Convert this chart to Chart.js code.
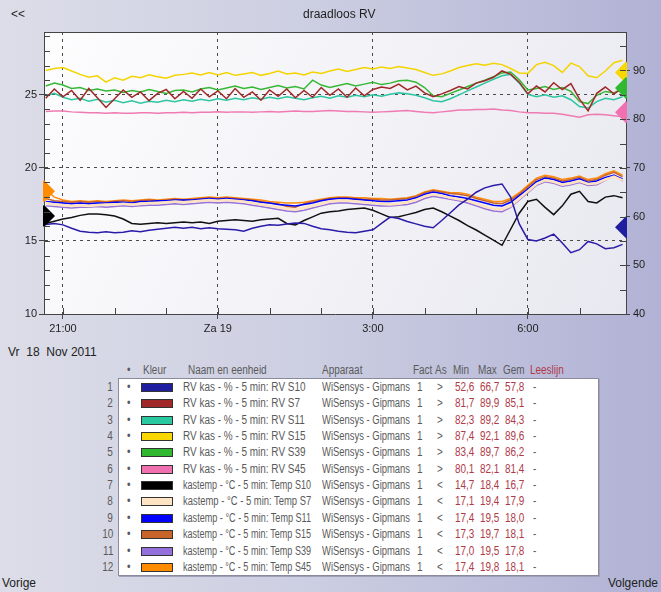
<!DOCTYPE html>
<html>
<head>
<meta charset="utf-8">
<script src="https://cdn.jsdelivr.net/npm/chart.js@4.4.0/dist/chart.umd.min.js"></script>
<style>
html, body { margin: 0; padding: 0; }
body {
    width: 661px; height: 592px; overflow: hidden; position: relative;
    background: linear-gradient(to right, #dcdde8 0%, #cdcfe2 45%, #b1b2d5 100%);
    font-family: "Liberation Sans", Arial, sans-serif; color: #222;
}
.t { position: absolute; white-space: pre; font-size: 12px; line-height: 14px; }
#chart { position: absolute; left: 0; top: 0; }
#box {
    position: absolute; left: 118px; top: 378px; width: 479px; height: 196px;
    background: #fff; border: 1px solid #8a8a9c; box-shadow: 1px 1px 0 #a0a0b8;
}
.c {
    position: absolute; white-space: nowrap; font-size: 12px; line-height: 14px; color: #5a5a5a;
    font-family: "Liberation Sans", Arial, sans-serif;
    transform: scaleX(0.83); transform-origin: left top;
}
.c.r { transform-origin: right top; }
.v { color: #b03a48; }
.sw { position: absolute; width: 30px; height: 7px; border: 1px solid #333; }
</style>
</head>
<body>
<canvas id="chart" width="661" height="345"></canvas>
<div class="t" style="left:11px;top:7px;">&lt;&lt;</div>
<div class="t" style="left:303px;top:7px;">draadloos RV</div>
<div class="t" style="left:8px;top:345px;">Vr  18  Nov 2011</div>
<div class="t" style="left:2px;top:576px;">Vorige</div>
<div class="t" style="right:3px;top:576px;">Volgende</div>
<div id="box"></div>
<div id="legend"></div>
<script>
// minutes relative to midnight (Za 19), 5-min logger shown every 10 min
const times = [-200, -190, -180, -170, -160, -150, -140, -130, -120, -110,
    -100, -90, -80, -70, -60, -50, -40, -30, -20, -10,
    0, 10, 20, 30, 40, 50, 60, 70, 80, 90,
    100, 110, 120, 130, 140, 150, 160, 170, 180, 190,
    200, 210, 220, 230, 240, 250, 260, 270, 280, 290,
    300, 310, 320, 330, 340, 350, 360, 370, 380, 390,
    400, 410, 420, 430, 440, 450, 460, 470];
const X_MIN = -202;
const X_MAX = 474;
const majorTimes = [-180, 0, 180, 360];
const majorLabels = ["21:00", "Za 19", "3:00", "6:00"];

// RV (%) - right axis
const rvS10 = [58.4, 58.6, 58.3, 57.6, 57.0, 56.8, 56.7, 56.9, 56.7, 56.8,
    57.1, 56.9, 57.2, 57.4, 57.6, 57.8, 57.6, 57.8, 57.5, 57.7,
    57.5, 57.4, 57.3, 57.0, 57.6, 58.0, 58.3, 58.2, 58.5, 58.7,
    58.6, 58.0, 57.5, 57.3, 57.0, 56.8, 56.7, 57.0, 57.3, 58.6,
    59.9, 59.6, 59.0, 58.5, 58.0, 57.7, 59.2, 60.8, 62.4, 63.6,
    65.0, 65.9, 66.4, 66.7, 64.0, 58.5, 55.3, 55.0, 55.6, 56.4,
    54.6, 52.6, 53.2, 54.9, 54.4, 53.4, 53.6, 54.3];
const rvS7 = [84.3, 86.2, 84.6, 85.9, 83.9, 86.3, 84.4, 82.4, 84.2, 86.0,
    84.5, 85.6, 83.8, 85.3, 86.1, 84.2, 85.7, 84.3, 86.2, 84.6,
    85.8, 84.2, 86.3, 84.5, 85.6, 83.9, 86.0, 84.7, 86.2, 84.4,
    85.9, 84.5, 86.5, 84.9, 86.2, 84.5, 86.4, 84.8, 86.1, 86.6,
    86.3, 87.2, 86.0, 86.8, 85.4, 84.6, 85.2, 85.9, 86.7, 86.2,
    87.4, 87.9, 88.6, 89.9, 89.2, 87.6, 85.2, 86.8, 85.6, 87.5,
    86.1, 87.3, 84.1, 81.7, 85.3, 86.6, 85.2, 86.4];
const rvS11 = [84.8, 85.3, 84.5, 84.0, 84.3, 83.7, 84.1, 83.5, 83.9, 83.4,
    83.8, 83.3, 83.7, 83.5, 83.9, 83.6, 84.0, 83.7, 84.1, 83.8,
    84.2, 83.9, 84.3, 84.0, 84.4, 84.1, 84.5, 84.2, 84.6, 84.3,
    84.0, 84.4, 84.7, 84.3, 84.8, 84.5, 84.9, 84.6, 85.0, 84.7,
    85.1, 85.4, 85.2, 84.9, 84.4, 83.8, 83.6, 84.2, 85.0, 85.8,
    86.6, 87.4, 88.2, 88.9, 89.2, 87.4, 85.1, 84.6, 85.0, 84.5,
    84.8, 84.0, 82.6, 82.3, 83.6, 84.3, 84.0, 84.6];
const rvS15 = [90.0, 90.4, 90.6, 89.9, 89.2, 88.6, 88.9, 87.6, 88.5, 88.0,
    88.8, 88.5, 89.1, 88.7, 88.4, 89.0, 89.2, 89.5, 89.1, 89.6,
    89.1, 89.6, 89.0, 89.3, 89.6, 89.0, 89.4, 89.9, 89.3, 89.5,
    89.1, 89.7, 89.4, 89.9, 90.3, 89.8, 90.2, 90.6, 90.3, 90.7,
    90.4, 90.8, 90.5, 90.2, 89.6, 89.0, 89.3, 89.9, 90.6, 91.0,
    91.4, 91.1, 91.5, 91.2, 90.4, 89.5, 89.4, 91.2, 91.7, 91.0,
    89.6, 91.5, 90.8, 88.9, 88.5, 89.9, 91.6, 92.1];
const rvS39 = [86.8, 87.4, 87.0, 86.3, 86.5, 85.9, 86.2, 85.8, 86.0, 85.5,
    85.9, 85.6, 86.1, 85.7, 85.3, 85.9, 86.0, 85.6, 86.2, 86.5,
    86.0, 86.4, 86.8, 86.3, 86.6, 86.1, 86.5, 86.9, 86.4, 86.7,
    86.2, 88.0, 87.0, 86.5, 86.9, 87.3, 86.8, 87.2, 87.6, 87.1,
    87.4, 87.9, 88.0, 87.6, 86.5, 84.8, 84.6, 85.3, 86.0, 86.7,
    87.4, 88.0, 88.7, 89.5, 89.7, 88.1, 86.0, 86.3, 86.7, 86.1,
    86.5, 85.7, 83.6, 83.2, 84.9, 85.7, 85.4, 86.3];
const rvS45 = [81.6, 81.7, 81.7, 81.5, 81.4, 81.3, 81.3, 81.2, 81.3, 81.2,
    81.2, 81.3, 81.3, 81.2, 81.3, 81.3, 81.4, 81.3, 81.4, 81.4,
    81.5, 81.4, 81.5, 81.5, 81.4, 81.5, 81.6, 81.5, 81.6, 81.7,
    81.6, 81.6, 81.7, 81.8, 81.7, 81.6, 81.6, 81.5, 81.4, 81.5,
    81.6, 81.7, 81.8, 81.6, 81.4, 81.3, 81.5, 81.7, 81.9, 81.9,
    82.0, 82.0, 82.1, 81.9, 81.8, 81.5, 81.3, 81.3, 81.2, 81.2,
    81.0, 80.7, 80.4, 80.9, 81.0, 80.9, 80.7, 80.5];

// kastemp (°C) - left axis
const tS10 = [16.2, 16.35, 16.5, 16.6, 16.75, 16.85, 16.85, 16.8, 16.7, 16.5,
    16.2, 16.15, 16.2, 16.25, 16.2, 16.25, 16.3, 16.25, 16.3, 16.2,
    16.35, 16.4, 16.45, 16.4, 16.35, 16.45, 16.5, 16.55, 16.2, 16.1,
    16.4, 16.65, 16.9, 17.0, 17.05, 17.15, 17.2, 17.25, 17.1, 16.85,
    16.6, 16.65, 16.8, 16.95, 17.15, 17.25, 17.0, 16.7, 16.4, 16.05,
    15.75, 15.4, 15.05, 14.7, 15.8, 16.9, 17.7, 17.85, 17.3, 16.8,
    17.4, 18.2, 18.4, 17.7, 17.6, 18.0, 18.1, 17.95];
const tS7 = [17.6, 17.5, 17.45, 17.4, 17.45, 17.4, 17.45, 17.5, 17.5, 17.55,
    17.5, 17.55, 17.6, 17.6, 17.65, 17.7, 17.65, 17.7, 17.75, 17.8,
    17.75, 17.8, 17.75, 17.7, 17.6, 17.5, 17.4, 17.3, 17.2, 17.15,
    17.25, 17.4, 17.55, 17.7, 17.75, 17.75, 17.7, 17.65, 17.6, 17.55,
    17.5, 17.55, 17.65, 17.8, 18.05, 18.2, 18.1, 17.95, 17.85, 17.75,
    17.55, 17.35, 17.2, 17.15, 17.4, 17.9, 18.4, 18.9, 19.15, 19.05,
    18.85, 18.95, 19.1, 18.9, 18.95, 19.2, 19.4, 19.15];
const tS11 = [17.7, 17.65, 17.6, 17.55, 17.6, 17.55, 17.6, 17.6, 17.65, 17.65,
    17.6, 17.7, 17.7, 17.75, 17.75, 17.8, 17.8, 17.8, 17.85, 17.9,
    17.85, 17.9, 17.85, 17.8, 17.75, 17.65, 17.6, 17.5, 17.45, 17.4,
    17.5, 17.6, 17.75, 17.85, 17.9, 17.9, 17.85, 17.8, 17.75, 17.7,
    17.7, 17.75, 17.8, 17.95, 18.2, 18.35, 18.25, 18.1, 18.0, 17.9,
    17.75, 17.6, 17.45, 17.4, 17.65, 18.1, 18.55, 19.05, 19.3, 19.2,
    19.0, 19.1, 19.25, 19.0, 19.1, 19.35, 19.5, 19.25];
const tS15 = [17.9, 17.75, 17.7, 17.65, 17.7, 17.65, 17.7, 17.65, 17.7, 17.75,
    17.7, 17.75, 17.8, 17.75, 17.8, 17.85, 17.8, 17.85, 17.9, 17.95,
    17.9, 17.95, 17.9, 17.85, 17.8, 17.7, 17.6, 17.55, 17.35, 17.3,
    17.55, 17.7, 17.8, 17.9, 17.95, 17.95, 17.9, 17.85, 17.85, 17.8,
    17.8, 17.85, 17.9, 18.05, 18.3, 18.45, 18.35, 18.25, 18.2, 18.1,
    17.9, 17.75, 17.6, 17.55, 17.8, 18.2, 18.7, 19.2, 19.4, 19.3,
    19.1, 19.2, 19.35, 19.1, 19.2, 19.5, 19.7, 19.4];
const tS39 = [17.4, 17.35, 17.3, 17.25, 17.3, 17.3, 17.35, 17.3, 17.35, 17.4,
    17.35, 17.4, 17.45, 17.45, 17.5, 17.55, 17.5, 17.55, 17.6, 17.65,
    17.6, 17.65, 17.6, 17.55, 17.45, 17.35, 17.25, 17.15, 17.05, 17.0,
    17.1, 17.25, 17.4, 17.55, 17.6, 17.6, 17.55, 17.5, 17.45, 17.4,
    17.4, 17.45, 17.5, 17.65, 17.9, 18.05, 17.95, 17.85, 17.75, 17.6,
    17.4, 17.2, 17.05, 17.0, 17.3, 17.8, 18.3, 18.8, 19.05, 18.95,
    18.75, 18.85, 19.0, 18.8, 18.85, 19.15, 19.5, 19.1];
const tS45 = [18.5, 18.0, 17.8, 17.7, 17.75, 17.7, 17.75, 17.7, 17.75, 17.8,
    17.75, 17.8, 17.85, 17.8, 17.85, 17.9, 17.85, 17.9, 17.95, 18.0,
    17.95, 18.0, 17.95, 17.9, 17.85, 17.8, 17.7, 17.65, 17.6, 17.6,
    17.65, 17.75, 17.85, 17.95, 18.0, 18.0, 17.95, 17.95, 17.9, 17.9,
    17.85, 17.9, 17.95, 18.1, 18.35, 18.5, 18.4, 18.3, 18.3, 18.2,
    18.0, 17.85, 17.7, 17.7, 17.9, 18.3, 18.8, 19.3, 19.5, 19.4,
    19.2, 19.3, 19.45, 19.2, 19.3, 19.6, 19.8, 19.5];

const seriesValues = [rvS10, rvS7, rvS11, rvS15, rvS39, rvS45, tS10, tS7, tS11, tS15, tS39, tS45];
const seriesNames = [
    "RV kas - % - 5 min: RV S10", "RV kas - % - 5 min: RV S7", "RV kas - % - 5 min: RV S11",
    "RV kas - % - 5 min: RV S15", "RV kas - % - 5 min: RV S39", "RV kas - % - 5 min: RV S45",
    "kastemp - °C - 5 min: Temp S10", "kastemp - °C - 5 min: Temp S7", "kastemp - °C - 5 min: Temp S11",
    "kastemp - °C - 5 min: Temp S15", "kastemp - °C - 5 min: Temp S39", "kastemp - °C - 5 min: Temp S45"
];
const seriesDevice = "WiSensys - Gipmans";
const seriesFact = [1, 1, 1, 1, 1, 1, 1, 1, 1, 1, 1, 1];
const seriesAxis = [">", ">", ">", ">", ">", ">", "<", "<", "<", "<", "<", "<"];
const seriesMin = ["52,6", "81,7", "82,3", "87,4", "83,4", "80,1", "14,7", "17,1", "17,4", "17,3", "17,0", "17,4"];
const seriesMax = ["66,7", "89,9", "89,2", "92,1", "89,7", "82,1", "18,4", "19,4", "19,5", "19,7", "19,5", "19,8"];
const seriesAvg = ["57,8", "85,1", "84,3", "89,6", "86,2", "81,4", "16,7", "17,9", "18,0", "18,1", "17,8", "18,1"];
const seriesColors = ["#2a1ca8", "#a02828", "#2cc6a0", "#f4d400", "#36b836", "#f07ab2",
    "#111111", "#ffe2c0", "#0000ff", "#c8642a", "#9472d8", "#ff8c0c"];
const swatchColors = ["#1e1e9e", "#a02828", "#28c8a0", "#f8d800", "#30b830", "#f070b0",
    "#000000", "#ffe4c4", "#0000ff", "#c8642a", "#9370db", "#ff8c00"];

// edge markers (series index + value)
const markRVSeries = [3, 4, 5, 0];
const markRVValues = [89.6, 86.4, 81.4, 57.8];
const markTSeries = [11, 6];
const markTValues = [18.4, 16.7];

const near = (v, list) => list.some(m => Math.abs(m - v) < 1e-6);

const frame = {
    id: "frame",
    beforeDraw(chart) {
        const { ctx, chartArea: a } = chart;
        const g = ctx.createLinearGradient(a.left, a.top, a.right, a.bottom);
        g.addColorStop(0, "#fdfdfe");
        g.addColorStop(1, "#e8e8f0");
        ctx.save();
        ctx.fillStyle = g;
        ctx.fillRect(a.left, a.top, a.right - a.left, a.bottom - a.top);
        ctx.restore();
    },
    afterDraw(chart) {
        const { ctx, chartArea: a, scales } = chart;
        ctx.save();
        ctx.strokeStyle = "#444";
        ctx.lineWidth = 1;
        ctx.beginPath();
        scales.x.ticks.forEach(t => {
            const px = Math.round(scales.x.getPixelForValue(t.value)) + 0.5;
            ctx.moveTo(px, a.bottom);
            ctx.lineTo(px, a.bottom - 6);
        });
        scales.yT.ticks.forEach(t => {
            const py = Math.round(scales.yT.getPixelForValue(t.value)) + 0.5;
            ctx.moveTo(a.left, py);
            ctx.lineTo(a.left + 6, py);
        });
        scales.yRV.ticks.forEach(t => {
            const py = Math.round(scales.yRV.getPixelForValue(t.value)) + 0.5;
            ctx.moveTo(a.right, py);
            ctx.lineTo(a.right - 6, py);
        });
        ctx.moveTo(a.left, a.top + 0.5);
        ctx.lineTo(a.right, a.top + 0.5);
        ctx.stroke();
        ctx.restore();
    }
};

const datasets = seriesValues.map((vals, i) => ({
    label: seriesNames[i],
    data: times.map((t, k) => ({ x: t, y: vals[k] })),
    borderColor: seriesColors[i],
    borderWidth: i === 7 ? 2.5 : 1.5,
    pointRadius: 0,
    tension: 0,
    yAxisID: seriesAxis[i] === ">" ? "yRV" : "yT"
}));
datasets.push({
    label: "markRV",
    data: markRVValues.map(v => ({ x: X_MAX, y: v })),
    yAxisID: "yRV", showLine: false, order: -1, clip: 1,
    pointStyle: "rectRot", pointRadius: 11, pointBorderWidth: 0,
    pointBackgroundColor: markRVSeries.map(s => swatchColors[s])
});
datasets.push({
    label: "markT",
    data: markTValues.map(v => ({ x: X_MIN, y: v })),
    yAxisID: "yT", showLine: false, order: -1, clip: 1,
    pointStyle: "rectRot", pointRadius: 11, pointBorderWidth: 0,
    pointBackgroundColor: markTSeries.map(s => swatchColors[s])
});

const tickFont = { family: "Liberation Sans", size: 11 };

new Chart(document.getElementById("chart"), {
    type: "line",
    data: { datasets },
    plugins: [frame],
    options: {
        responsive: false,
        animation: false,
        layout: { padding: { top: 32, left: 0, right: 0, bottom: 0 } },
        plugins: { legend: { display: false }, tooltip: { enabled: false } },
        scales: {
            x: {
                type: "linear", min: X_MIN, max: X_MAX,
                afterFit: s => { s.height = 31; },
                ticks: {
                    stepSize: 60, includeBounds: false, autoSkip: false, maxRotation: 0,
                    color: "#222", font: tickFont, padding: 3,
                    callback: v => { const k = majorTimes.indexOf(v); return k >= 0 ? majorLabels[k] : ""; }
                },
                grid: {
                    color: c => near(c.tick.value, majorTimes) ? "#4a4a4a" : "rgba(0,0,0,0)",
                    tickLength: 5
                },
                border: { color: "#444", dash: [3, 4] }
            },
            yT: {
                type: "linear", position: "left", min: 10, max: 29.3,
                afterFit: s => { s.width = 44; },
                ticks: {
                    stepSize: 1, includeBounds: false, autoSkip: false,
                    color: "#222", font: tickFont, padding: 2,
                    callback: v => v % 5 === 0 ? String(v) : ""
                },
                grid: {
                    color: c => (c.tick.value % 5 === 0 && c.tick.value > 10) ? "#4a4a4a" : "rgba(0,0,0,0)",
                    tickColor: c => c.tick.value % 5 === 0 ? "#444" : "rgba(0,0,0,0)",
                    tickLength: 5
                },
                border: { color: "#444", dash: [3, 4] }
            },
            yRV: {
                type: "linear", position: "right", min: 40, max: 97.9,
                afterFit: s => { s.width = 35; },
                ticks: {
                    stepSize: 5, includeBounds: false, autoSkip: false,
                    color: "#222", font: tickFont, padding: 3,
                    callback: v => v % 10 === 0 ? String(v) : ""
                },
                grid: {
                    drawOnChartArea: false,
                    color: c => c.tick.value % 10 === 0 ? "#444" : "rgba(0,0,0,0)",
                    tickLength: 4
                },
                border: { color: "#444" }
            }
        }
    }
});

// legend table
const legend = document.getElementById("legend");
const cell = (x, y, text, cls, align, fitWidth) => {
    const d = document.createElement("div");
    d.className = "c" + (cls ? " " + cls : "");
    d.textContent = text;
    if (align === "right") { d.classList.add("r"); d.style.right = (661 - x) + "px"; } else { d.style.left = x + "px"; }
    d.style.top = y + "px";
    legend.appendChild(d);
    if (fitWidth) {
        const s = Math.min(0.83, fitWidth / d.offsetWidth);
        d.style.transform = "scaleX(" + s + ")";
    }
};
const headY = 363;
cell(127, headY, "•");
cell(143, headY, "Kleur");
cell(188, headY, "Naam en eenheid");
cell(322, headY, "Apparaat");
cell(413, headY, "Fact");
cell(435, headY, "As");
cell(453, headY, "Min");
cell(478, headY, "Max");
cell(503, headY, "Gem");
cell(530, headY, "Leeslijn", "v");
seriesNames.forEach((name, i) => {
    const y = 380 + i * 16.35;
    cell(113, y, String(i + 1), "", "right");
    cell(127, y, "•");
    const sw = document.createElement("div");
    sw.className = "sw";
    sw.style.left = "141px";
    sw.style.top = (y + 3) + "px";
    sw.style.background = swatchColors[i];
    legend.appendChild(sw);
    cell(183, y, name, "", "left", 128);
    cell(322, y, seriesDevice, "", "left", 88);
    cell(417, y, String(seriesFact[i]));
    cell(437, y, seriesAxis[i]);
    cell(455, y, seriesMin[i], "v");
    cell(480, y, seriesMax[i], "v");
    cell(505, y, seriesAvg[i], "v");
    cell(533, y, "-");
});
</script>
</body>
</html>
